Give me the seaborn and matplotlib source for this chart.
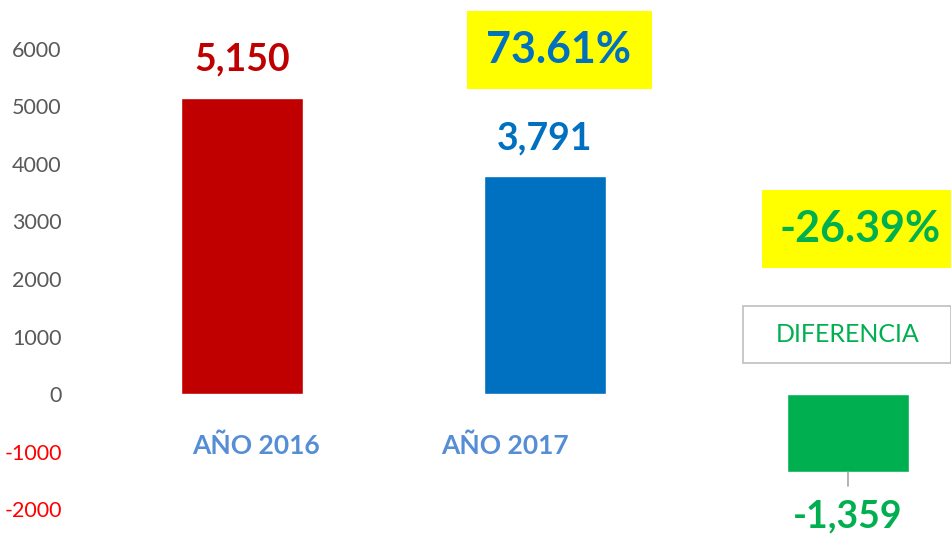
import matplotlib
matplotlib.use('Agg')
import matplotlib.pyplot as plt
from matplotlib.patches import Rectangle
import seaborn as sns

# datos
categorias = ['AÑO 2016', 'AÑO 2017', 'DIFERENCIA']
valores = [5150, 3791, -1359]
colores = ['#C00000', '#0070C0', '#00B050']
ticks_y = [-2000, -1000, 0, 1000, 2000, 3000, 4000, 5000, 6000]

W, H = 951, 535

sns.set_style('white')
plt.rcParams['font.family'] = ['Lato', 'DejaVu Sans']

fig = plt.figure(figsize=(W / 100, H / 100), dpi=100)
ax = fig.add_axes([70 / W, 0, 1 - 70 / W, 1])


def px(x, y):
    # pixeles de la imagen -> fraccion de figura
    return x / W, 1 - y / H


sns.barplot(x=categorias, y=valores, hue=categorias, palette=colores,
            width=0.4, saturation=1, legend=False, ax=ax)

ax.set_xlim(-0.568, 2.340)
ax.set_ylim(-2452, 6852)
ax.set_xticks([])
ax.set_yticks(ticks_y)
ax.set_yticklabels([str(t) for t in ticks_y])
ax.tick_params(axis='y', length=0, pad=6, labelsize=15.5)
for lab, t in zip(ax.get_yticklabels(), ticks_y):
    lab.set_color('#FF0000' if t < 0 else '#595959')
sns.despine(ax=ax, left=True, bottom=True)
ax.set_xlabel('')
ax.set_ylabel('')

# etiquetas de valor
for i, v in enumerate(valores):
    off = 38 if v > 0 else -44
    ax.annotate(f'{v:,}', xy=(i, v), xytext=(0, off * 0.72), textcoords='offset points',
                ha='center', va='center', fontsize=27, fontweight='bold', color=colores[i])

# linea guia de la diferencia
ax.annotate('', xy=(2, valores[2]), xytext=(0, -10), textcoords='offset points',
            xycoords='data', arrowprops=dict(arrowstyle='-', color='#A6A6A6', lw=1.2,
                                             shrinkA=0, shrinkB=0))

# nombres de categoria
fig.text(*px(256, 446), categorias[0], ha='center', va='center', fontsize=19,
         fontweight='bold', color='#558ED5')
fig.text(*px(505, 446), categorias[1], ha='center', va='center', fontsize=19,
         fontweight='bold', color='#558ED5')

# caja DIFERENCIA
x0, y0 = px(743, 363)
fig.patches.append(Rectangle((x0, y0), (951 - 743) / W, 57 / H, transform=fig.transFigure,
                             facecolor='white', edgecolor='#BFBFBF', lw=1.2))
fig.text(*px(848, 334), categorias[2], ha='center', va='center', fontsize=18,
         color='#00B050')

# porcentajes en caja amarilla
pct_2017 = valores[1] / valores[0] * 100
pct_dif = valores[2] / valores[0] * 100

x0, y0 = px(467, 89)
fig.patches.append(Rectangle((x0, y0), 185 / W, 78 / H, transform=fig.transFigure,
                             facecolor='#FFFF00', edgecolor='none'))
fig.text(*px(559, 50), f'{pct_2017:.2f}%', ha='center', va='center', fontsize=31,
         fontweight='bold', color='#0070C0')

x0, y0 = px(762, 268)
fig.patches.append(Rectangle((x0, y0), 189 / W, 78 / H, transform=fig.transFigure,
                             facecolor='#FFFF00', edgecolor='none'))
fig.text(*px(860, 229), f'{pct_dif:.2f}%', ha='center', va='center', fontsize=31,
         fontweight='bold', color='#00B050')

fig.savefig('out.png', dpi=100)
